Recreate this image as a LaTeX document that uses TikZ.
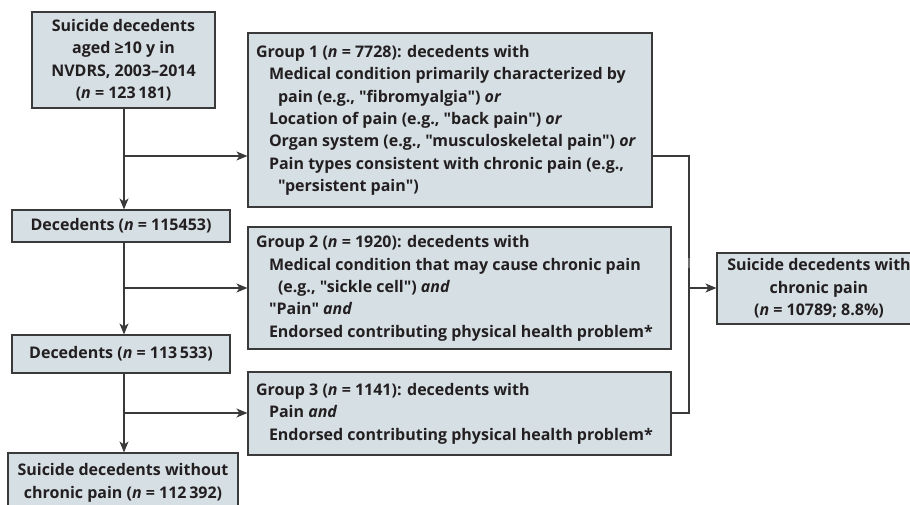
\documentclass[tikz,border=0pt]{standalone}
\usepackage{fontspec}
\setmainfont{Open Sans}[Ligatures=TeXOff]
\usetikzlibrary{arrows.meta}
\definecolor{boxfill}{HTML}{D5DFE4}
\definecolor{boxline}{HTML}{3A3A3A}
\definecolor{tickc}{HTML}{707070}
\definecolor{txt}{HTML}{231F20}
\newcommand{\grouptext}[2]{\makebox[#1][l]{\begin{tabular}{@{}l@{}}#2\end{tabular}}}
\begin{document}
\begin{tikzpicture}[x=1pt,y=-1pt,
  box/.style={draw=boxline, fill=boxfill, line width=1.1pt, inner sep=0pt,
    font=\fontsize{16}{22.4}\selectfont\bfseries, text=txt},
  gbox/.style={box},
  cbox/.style={box, align=center},
  conn/.style={draw=boxline, line width=1.1pt},
  arr/.style={conn, -{Stealth[length=11pt,width=9pt,inset=3pt]}}]
\useasboundingbox (0,0) rectangle (910,505);
\clip (0,0) rectangle (910,505);

\node[cbox, minimum width=183pt, minimum height=96pt] (top) at (123.5,60)
  {Suicide decedents\\aged ≥10 y in\\NVDRS, 2003–2014\\(\textit{n} = 123\,181)};
\node[cbox, minimum width=218pt, minimum height=32pt] (dec1) at (121,226)
  {Decedents (\textit{n} = 115453)};
\node[cbox, minimum width=218pt, minimum height=38pt] (dec2) at (121,354)
  {Decedents (\textit{n} = 113\,533)};
\node[cbox, minimum width=230pt, minimum height=60pt] (nopain) at (123,483)
  {Suicide decedents without\\chronic pain (\textit{n} = 112\,392)};

\node[gbox, minimum width=404pt, minimum height=174pt] (g1) at (450,120)
  {\grouptext{388pt}{Group 1 (\textit{n} = 7728): decedents with\\
   \hspace*{13pt}Medical condition primarily characterized by\\
   \hspace*{22pt}pain (e.g., "fibromyalgia") \textit{or}\\
   \hspace*{13pt}Location of pain (e.g., "back pain") \textit{or}\\
   \hspace*{13pt}Organ system (e.g., "musculoskeletal pain") \textit{or}\\
   \hspace*{13pt}Pain types consistent with chronic pain (e.g.,\\
   \hspace*{22pt}"persistent pain")}};
\node[gbox, minimum width=423pt, minimum height=122pt] (g2) at (459.5,288)
  {\grouptext{407pt}{Group 2 (\textit{n} = 1920): decedents with\\
   \hspace*{13pt}Medical condition that may cause chronic pain\\
   \hspace*{22pt}(e.g., "sickle cell") \textit{and}\\
   \hspace*{13pt}"Pain" \textit{and}\\
   \hspace*{13pt}Endorsed contributing physical health problem*}};
\node[gbox, minimum width=423pt, minimum height=83pt] (g3) at (459.5,413.5)
  {\grouptext{407pt}{Group 3 (\textit{n} = 1141): decedents with\\
   \hspace*{13pt}Pain \textit{and}\\
   \hspace*{13pt}Endorsed contributing physical health problem*}};

\node[cbox, minimum width=204pt, minimum height=71pt] (fin) at (819,288.5)
  {Suicide decedents with\\chronic pain\\(\textit{n} = 10789; 8.8\%)};

% left spine
\coordinate (j1) at (124,156);
\coordinate (j2) at (124,288);
\coordinate (j3) at (124,413);
\draw[arr] (j1 |- top.south) -- (j1 |- dec1.north);
\draw[arr] (j1 |- dec1.south) -- (j1 |- dec2.north);
\draw[arr] (j1 |- dec2.south) -- (j1 |- nopain.north);
\draw[arr] (j1) -- (j1 -| g1.west);
\draw[arr] (j2) -- (j2 -| g2.west);
\draw[arr] (j3) -- (j3 -| g3.west);

% right collector
\coordinate (c1) at (689,156);
\coordinate (c2) at (689,288);
\coordinate (c3) at (689,413);
\draw[conn] (c1 -| g1.east) -- (c1) -- (c3) -- (c3 -| g3.east);
\draw[arr] (c2) -- (c2 -| fin.west);
\draw[tickc, line width=2.4pt] (689,258) -- (689,268);
\end{tikzpicture}
\end{document}
